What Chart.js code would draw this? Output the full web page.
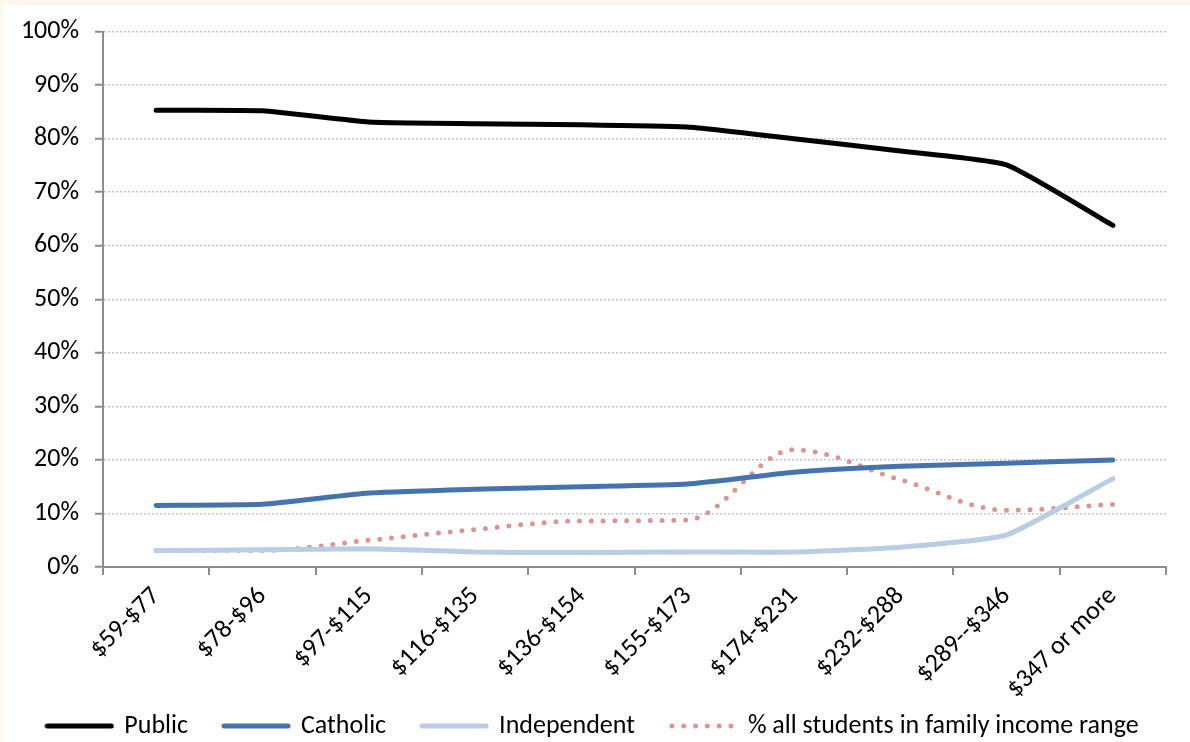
<!DOCTYPE html>
<html>
<head>
<meta charset="utf-8">
<script src="https://cdn.jsdelivr.net/npm/chart.js@4.4.1/dist/chart.umd.min.js"></script>
<style>
  html, body { margin: 0; padding: 0; background: #fef7ee; overflow: hidden; }
  #wrap { width: 1190px; height: 742px; position: relative; }
</style>
</head>
<body>
<div id="wrap"><canvas id="c" width="1190" height="742"></canvas></div>
<script>
const categories = ["$59-$77", "$78-$96", "$97-$115", "$116-$135", "$136-$154", "$155-$173", "$174-$231", "$232-$288", "$289--$346", "$347 or more"];
const publicShare      = [85.3, 85.2, 83.1, 82.8, 82.6, 82.2, 80.0, 77.7, 75.1, 63.8];
const catholicShare    = [11.5, 11.7, 13.8, 14.5, 15.0, 15.5, 17.7, 18.8, 19.4, 20.0];
const independentShare = [3.1, 3.2, 3.4, 2.8, 2.7, 2.8, 2.8, 3.7, 6.0, 16.5];
const allStudentsShare = [3.1, 3.1, 5.0, 7.0, 8.6, 8.8, 21.9, 16.3, 10.6, 11.7];
const seriesNames = ["Public", "Catholic", "Independent", "% all students in family income range"];
const seriesColors = ['#000000', '#4573ad', '#b9cde5', '#d99694'];

const FONT = "Carlito, Lato, 'Liberation Sans', sans-serif";
const FSIZE = 26;
Chart.defaults.font.family = FONT;
Chart.defaults.color = '#000000';

function legendSample(color, dotted) {
  const cv = document.createElement('canvas');
  cv.width = 70; cv.height = 8;
  const g = cv.getContext('2d');
  g.strokeStyle = color; g.fillStyle = color;
  g.lineWidth = 5; g.lineCap = 'round';
  if (dotted) {
    for (let x = 4; x <= 66; x += 11.8) { g.beginPath(); g.arc(x, 4, 2.5, 0, Math.PI * 2); g.fill(); }
  } else {
    g.beginPath(); g.moveTo(3, 4); g.lineTo(67, 4); g.stroke();
  }
  return cv;
}

const bgPlugin = {
  id: 'bg',
  beforeDraw(chart) {
    const ctx = chart.ctx;
    ctx.save();
    ctx.fillStyle = '#fef7ee';
    ctx.fillRect(0, 0, chart.width, chart.height);
    ctx.fillStyle = '#ffffff';
    ctx.fillRect(3, 5, chart.width - 3, chart.height - 5);
    ctx.restore();
  },
  afterLayout(chart) {
    if (chart.legend) { chart.legend.left += 10; chart.legend.right += 10; }
  }
};

function lineSet(i, data, extra) {
  return Object.assign({
    label: seriesNames[i], data: data,
    borderColor: seriesColors[i], backgroundColor: seriesColors[i],
    borderWidth: 5, tension: 0.15, borderCapStyle: 'round', borderJoinStyle: 'round',
    pointRadius: 0, pointHoverRadius: 0,
    pointStyle: legendSample(seriesColors[i], i === 3)
  }, extra || {});
}

new Chart(document.getElementById('c'), {
  type: 'line',
  data: {
    labels: categories,
    datasets: [
      lineSet(0, publicShare),
      lineSet(1, catholicShare),
      lineSet(2, independentShare),
      lineSet(3, allStudentsShare, { borderDash: [0, 11.8], cubicInterpolationMode: 'monotone' })
    ]
  },
  options: {
    responsive: false,
    animation: false,
    devicePixelRatio: 1,
    layout: { padding: { left: 0, right: 24, top: 27, bottom: -7 } },
    plugins: {
      legend: {
        position: 'bottom',
        labels: {
          usePointStyle: true,
          pointStyleWidth: 64,
          boxWidth: 64,
          padding: 36,
          color: '#000000',
          font: { size: FSIZE, family: FONT }
        }
      },
      tooltip: { enabled: false }
    },
    scales: {
      x: {
        offset: true,
        afterFit(scale) { scale.height = 110; scale._computeLabelArea = function () { return undefined; }; },
        grid: { display: true, offset: true, drawOnChartArea: false, drawTicks: true, tickLength: 8, tickColor: '#8c8c8c', tickWidth: 2, color: '#8c8c8c', lineWidth: 2 },
        border: { display: true, color: '#8c8c8c', width: 2 },
        ticks: { autoSkip: false, minRotation: 45, maxRotation: 45, padding: 6, color: '#000000', font: { size: FSIZE, family: FONT } }
      },
      y: {
        min: 0,
        max: 100,
        afterFit(scale) { scale.width = 103; },
        grid: { display: true, drawTicks: true, tickLength: 8, tickColor: '#8c8c8c', tickWidth: 2, color: '#c4c4c4', lineWidth: 1.5 },
        border: { display: true, color: '#8c8c8c', width: 2, dash: [2, 2] },
        ticks: { stepSize: 10, padding: 16, color: '#000000', font: { size: FSIZE, family: FONT }, callback: v => v + '%' }
      }
    }
  },
  plugins: [bgPlugin]
});
</script>
</body>
</html>
